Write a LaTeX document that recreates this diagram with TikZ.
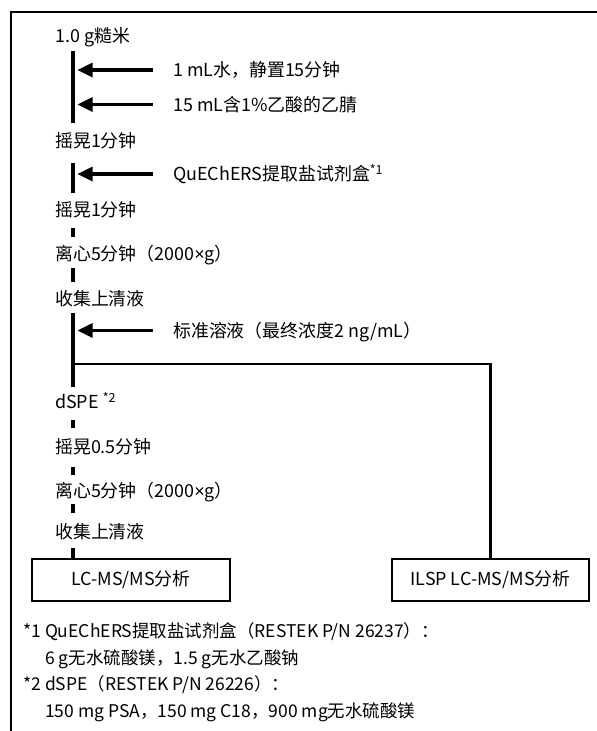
\documentclass[tikz,border=0pt]{standalone}
\usepackage{fontspec}
\setmainfont{Noto Sans CJK SC}
\newfontfamily\smallx{Liberation Sans}
\newcommand{\tms}{{\smallx ×}}
\usetikzlibrary{arrows.meta}
\begin{document}
\begin{tikzpicture}[x=1pt,y=-1pt,
  lbl/.style={anchor=west, inner sep=0pt, text height=15pt, text depth=2pt, font=\fontsize{17.9}{20}\selectfont},
  mainline/.style={line width=3.2pt},
  addarrow/.style={line width=3.2pt, -{Triangle[length=15pt,width=14pt]}},
  branchline/.style={line width=2.4pt},
  frameline/.style={line width=2.2pt},
  resultbox/.style={draw, line width=2.4pt, minimum height=42pt, inner sep=0pt, font=\fontsize{17.9}{20}\selectfont},
  note/.style={anchor=west, inner sep=0pt, font=\fontsize{17.5}{20}\selectfont}
]
\useasboundingbox (0,0) rectangle (597,731);
\draw[frameline] (11,733) -- (11,12) -- (599,12);
\coordinate (L) at (73,0);
\coordinate (T) at (77.5,0);
% steps
\node[lbl] (s1) at (55,35.5) {1.0 g糙米};
\node[lbl] (a1) at (173,70) {1 mL水，静置15分钟};
\node[lbl] (a2) at (173,104.5) {15 mL含1\%乙酸的乙腈};
\node[lbl] (s2) at (55,140.5) {摇晃1分钟};
\node[lbl] (a3) at (173,174) {QuEChERS提取盐试剂盒\textsuperscript{*1}};
\node[lbl] (s3) at (55,210) {摇晃1分钟};
\node[lbl] (s4) at (55,254) {离心5分钟（2000\tms g）};
\node[lbl] (s5) at (55,299) {收集上清液};
\node[lbl] (a4) at (173,330.5) {标准溶液（最终浓度2 ng/mL）};
\node[lbl] (s6) at (55,402) {dSPE \textsuperscript{*2}};
\node[lbl] (s7) at (55,447) {摇晃0.5分钟};
\node[lbl] (s8) at (55,491) {离心5分钟（2000\tms g）};
\node[lbl] (s9) at (55,532) {收集上清液};
\node[resultbox, minimum width=198pt] (b1) at (131,580) {LC-MS/MS分析};
\node[resultbox, minimum width=197pt] (b2) at (490.5,580) {ILSP LC-MS/MS分析};
% main flow
\draw[mainline, shorten <=7pt, shorten >=9pt] (s1.south -| L) -- (s2.north -| L);
\draw[mainline, shorten <=14pt, shorten >=8.5pt] (s2.south -| L) -- (s3.north -| L);
\draw[mainline, shorten <=9.5pt, shorten >=8.5pt] (s3.south -| L) -- (s4.north -| L);
\draw[mainline, shorten <=5.5pt, shorten >=8.5pt] (s4.south -| L) -- (s5.north -| L);
\draw[mainline, shorten <=5.5pt, shorten >=6.5pt] (s5.south -| L) -- (s6.north -| L);
\draw[mainline, shorten <=9.5pt, shorten >=10.5pt] (s6.south -| L) -- (s7.north -| L);
\draw[mainline, shorten <=11.5pt, shorten >=7.5pt] (s7.south -| L) -- (s8.north -| L);
\draw[mainline, shorten <=4.5pt, shorten >=10.5pt] (s8.south -| L) -- (s9.north -| L);
\draw[mainline, shorten <=7.5pt] (s9.south -| L) -- (b1.north -| L);
% additions
\draw[addarrow] ([xshift=-20pt]a1.west) -- (a1.west -| T);
\draw[addarrow] ([xshift=-20pt]a2.west) -- (a2.west -| T);
\draw[addarrow] ([xshift=-20pt]a3.west) -- (a3.west -| T);
\draw[addarrow] ([xshift=-20pt]a4.west) -- (a4.west -| T);
% branch
\coordinate (br) at (73,364);
\draw[branchline] (br) -| (b2.north);
% notes
\node[note] (n1) at (23,632) {*1 QuEChERS提取盐试剂盒（RESTEK P/N 26237）：};
\node[note] (n2) at (45,659) {6 g无水硫酸镁，1.5 g无水乙酸钠};
\node[note] (n3) at (23,685) {*2 dSPE（RESTEK P/N 26226）：};
\node[note] (n4) at (45,712) {150 mg PSA，150 mg C18，900 mg无水硫酸镁};
\end{tikzpicture}
\end{document}
